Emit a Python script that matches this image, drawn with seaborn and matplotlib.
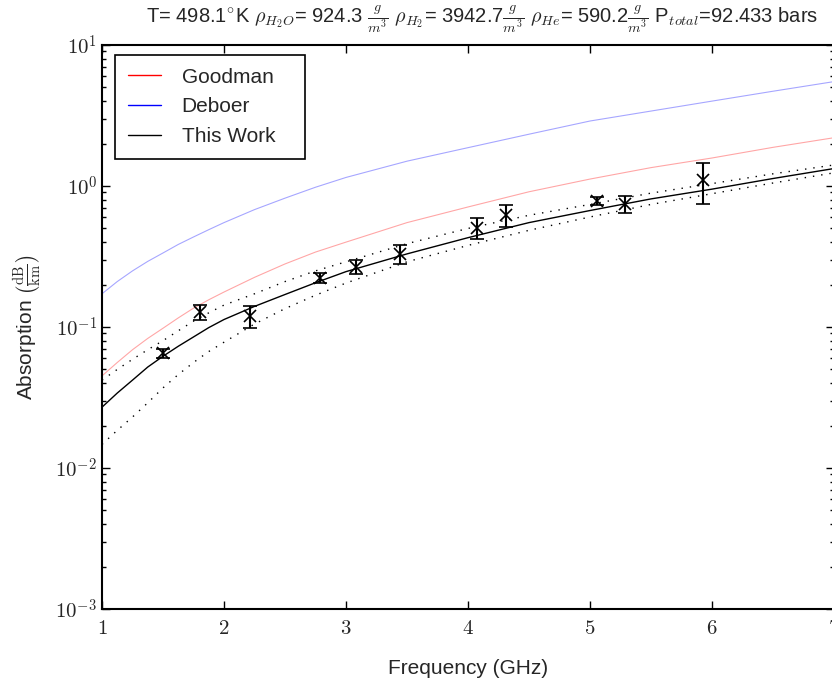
import numpy as np
import pandas as pd
import matplotlib
matplotlib.use('Agg')
import matplotlib.pyplot as plt
import seaborn as sns
from matplotlib.ticker import FuncFormatter, LogLocator, FixedLocator
from matplotlib.lines import Line2D

# model curves (frequency in GHz, absorption in dB/km)
freq = [1.0, 1.125, 1.25, 1.375, 1.5, 1.625, 1.75, 1.875, 2.0, 2.25, 2.5, 2.75, 3.0,
        3.5, 4.0, 4.5, 5.0, 5.5, 6.0, 6.5, 7.0]
goodman = [0.045, 0.056, 0.069, 0.083, 0.098, 0.116, 0.136, 0.156, 0.177, 0.225, 0.28, 0.34, 0.40,
           0.55, 0.71, 0.91, 1.12, 1.35, 1.58, 1.88, 2.2]
deboer = [0.172, 0.21, 0.25, 0.292, 0.335, 0.385, 0.435, 0.49, 0.55, 0.68, 0.82, 0.98, 1.15,
          1.50, 1.87, 2.33, 2.89, 3.40, 4.0, 4.7, 5.5]
this_work = [0.027, 0.034, 0.042, 0.052, 0.062, 0.073, 0.085, 0.099, 0.113, 0.14, 0.17, 0.206, 0.247,
             0.33, 0.43, 0.55, 0.67, 0.81, 0.95, 1.13, 1.33]
upper = [0.042, 0.050, 0.059, 0.069, 0.080, 0.094, 0.110, 0.126, 0.143, 0.172, 0.21, 0.25, 0.29,
         0.39, 0.50, 0.62, 0.74, 0.89, 1.04, 1.22, 1.41]
lower = [0.0147, 0.0185, 0.023, 0.029, 0.037, 0.046, 0.056, 0.067, 0.078, 0.105, 0.135, 0.168, 0.205,
         0.29, 0.379, 0.485, 0.603, 0.74, 0.882, 1.05, 1.24]

# measurements
meas_f = [1.50, 1.80, 2.21, 2.79, 3.08, 3.44, 4.07, 4.31, 5.06, 5.29, 5.93]
meas_a = [0.065, 0.128, 0.120, 0.224, 0.267, 0.331, 0.506, 0.622, 0.783, 0.749, 1.097]
meas_err = [0.0045, 0.015, 0.021, 0.019, 0.031, 0.052, 0.087, 0.107, 0.051, 0.102, 0.355]

sns.set_style('ticks')
plt.rcParams['font.family'] = ['Liberation Sans', 'DejaVu Sans']
plt.rcParams['mathtext.fontset'] = 'cm'
plt.rcParams['xtick.direction'] = 'in'
plt.rcParams['ytick.direction'] = 'in'

df = pd.DataFrame({'freq': freq, 'goodman': goodman, 'deboer': deboer,
                   'this_work': this_work, 'upper': upper, 'lower': lower})

fig = plt.figure(figsize=(8.32, 6.84), dpi=100)
ax = fig.add_axes([102 / 832, 75 / 684, 732 / 832, 564 / 684])

sns.lineplot(data=df, x='freq', y='goodman', ax=ax, color='red', lw=0.8, alpha=0.35)
sns.lineplot(data=df, x='freq', y='deboer', ax=ax, color='blue', lw=0.8, alpha=0.35)
sns.lineplot(data=df, x='freq', y='this_work', ax=ax, color='black', lw=1.0)
sns.lineplot(data=df, x='freq', y='upper', ax=ax, color='black', lw=1.0, linestyle=(0, (1, 5)))
sns.lineplot(data=df, x='freq', y='lower', ax=ax, color='black', lw=1.0, linestyle=(0, (1, 5)))
ax.errorbar(meas_f, meas_a, yerr=meas_err, fmt='x', color='black', ms=9, mew=1.2,
            elinewidth=1.5, capsize=5, capthick=1.5)

ax.set_yscale('log')
ax.set_xlim(1, 7)
ax.set_ylim(1e-3, 1e1)
ax.xaxis.set_major_locator(FixedLocator([1, 2, 3, 4, 5, 6, 7]))
ax.xaxis.set_major_formatter(FuncFormatter(lambda v, p: r'$%d$' % round(v)))
ax.yaxis.set_major_locator(LogLocator(base=10))
ax.yaxis.set_minor_locator(LogLocator(base=10, subs=np.arange(2, 10)))
ax.yaxis.set_major_formatter(FuncFormatter(lambda v, p: r'$10^{%d}$' % round(np.log10(v))))
ax.tick_params(which='both', top=True, right=True, labelsize=15, color='black')
ax.tick_params(which='major', length=6, width=1)
ax.tick_params(which='minor', length=3, width=1)
ax.tick_params(axis='x', pad=7)
for s in ax.spines.values():
    s.set_color('black')
    s.set_linewidth(1.5)

ax.set_xlabel('Frequency (GHz)', fontsize=15, labelpad=15)
ax.set_ylabel(r'Absorption $\left(\frac{\mathrm{dB}}{\mathrm{km}}\right)$', fontsize=15, labelpad=8)
ax.set_title(r'T= 498.1$^{\circ}$K $\rho_{H_2O}$= 924.3 $\frac{g}{m^3}$ $\rho_{H_2}$= 3942.7$\frac{g}{m^3}$ '
             r'$\rho_{He}$= 590.2$\frac{g}{m^3}$ P$_{total}$=92.433 bars', fontsize=14.5, pad=16, x=0.519)

handles = [Line2D([], [], color='red', lw=1), Line2D([], [], color='blue', lw=1),
           Line2D([], [], color='black', lw=1)]
leg = ax.legend(handles, ['Goodman', 'Deboer', 'This Work'], loc='upper left', fontsize=15,
                frameon=True, fancybox=False, edgecolor='black', framealpha=1,
                handlelength=1.6, handletextpad=1.0, labelspacing=0.52, borderpad=0.6,
                mode='expand', borderaxespad=0,
                bbox_to_anchor=(13 / 732, 0, 190 / 732, 554 / 564))
leg.get_frame().set_linewidth(1.2)

fig.savefig('out.png', dpi=100)
